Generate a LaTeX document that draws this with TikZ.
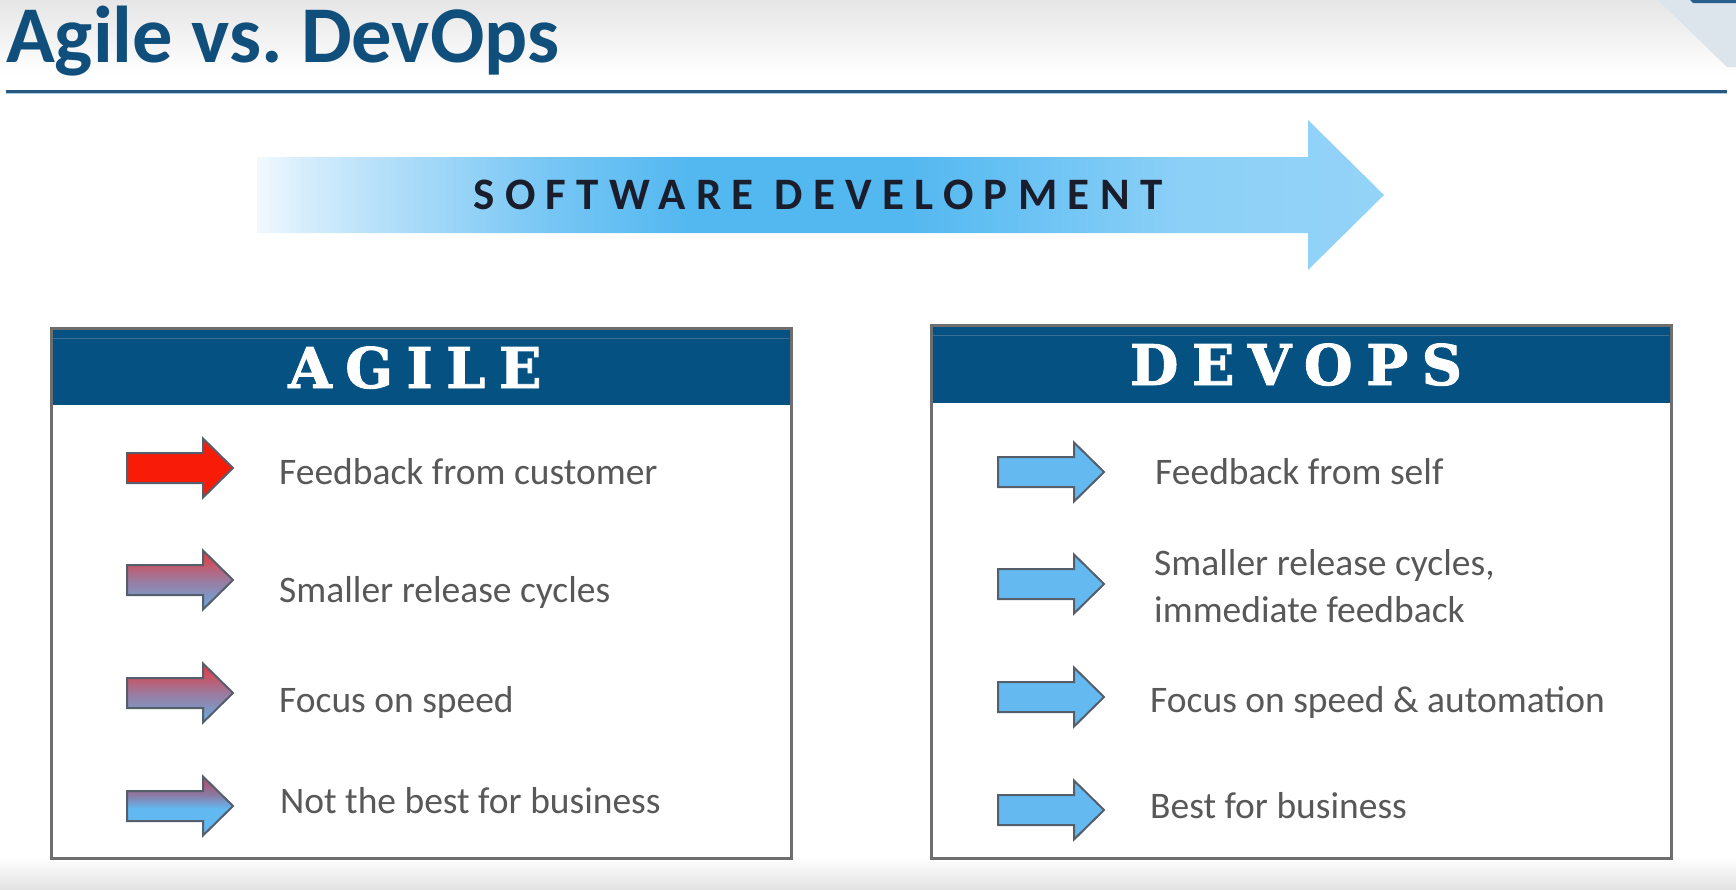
\documentclass[tikz,border=0pt]{standalone}
\usepackage{fontspec}
\setmainfont{Carlito}
\newfontfamily\headfont{DejaVu Serif}[LetterSpace=24,FakeBold=1.6]
\newfontfamily\bandfont{Carlito}[LetterSpace=23]

% palette
\definecolor{titleblue}{RGB}{16,78,124}
\definecolor{headblue}{RGB}{4,81,130}
\definecolor{headline}{RGB}{60,110,150}
\definecolor{ruleblue}{RGB}{38,88,128}
\definecolor{rulelight}{RGB}{170,205,230}
\definecolor{boxgray}{RGB}{110,110,110}
\definecolor{arrowedge}{RGB}{85,95,108}
\definecolor{itemgray}{RGB}{88,88,88}
\definecolor{sdtext}{RGB}{26,30,44}
\definecolor{skyfill}{RGB}{100,186,240}
\definecolor{agilered}{RGB}{248,28,8}
\definecolor{cornerpale}{RGB}{220,228,236}
\definecolor{cornerdark}{RGB}{40,95,140}
% red-to-blue icon blends
\definecolor{mixT}{RGB}{232,56,60}
\definecolor{mixM}{RGB}{156,122,158}
\definecolor{mixB}{RGB}{104,172,226}
\definecolor{blT}{RGB}{184,72,104}
\definecolor{blM}{RGB}{140,120,160}
\definecolor{blB}{RGB}{98,184,240}
% band colours, left to right
\definecolor{sd0}{RGB}{242,249,254}
\definecolor{sd1}{RGB}{214,238,252}
\definecolor{sd2}{RGB}{168,218,248}
\definecolor{sd3}{RGB}{118,198,244}
\definecolor{sd4}{RGB}{84,184,240}
\definecolor{sd5}{RGB}{110,196,244}
\definecolor{sd6}{RGB}{140,208,247}
\definecolor{sd7}{RGB}{148,211,248}

\pgfdeclareverticalshading{agilemix}{100bp}{color(0bp)=(mixB); color(25bp)=(mixB); color(50bp)=(mixM); color(75bp)=(mixT); color(100bp)=(mixT)}
\pgfdeclareverticalshading{agileblue}{100bp}{color(0bp)=(blB); color(25bp)=(blB); color(48bp)=(blB); color(60bp)=(blM); color(75bp)=(blT); color(100bp)=(blT)}
\pgfdeclarehorizontalshading{sdband}{100bp}{color(0bp)=(sd0); color(25bp)=(sd0); color(27bp)=(sd1); color(32bp)=(sd2); color(38bp)=(sd3); color(44bp)=(sd4); color(54bp)=(sd4); color(60bp)=(sd5); color(66bp)=(sd6); color(75bp)=(sd7); color(100bp)=(sd7)}

\tikzset{
  blockarrow/.pic={\path[pic actions] (0,-15) -- (76,-15) -- (76,-29.5) -- (106,0) -- (76,29.5) -- (76,15) -- (0,15) -- cycle;},
  iconedge/.style={draw=arrowedge, line width=2, line join=miter},
  panel/.style={draw=boxgray, line width=2.5},
  headtext/.style={text=white, anchor=base, font=\headfont\bfseries\fontsize{56}{60}\selectfont},
  itemtext/.style={text=itemgray, anchor=base west, font=\fontsize{37.5}{47}\selectfont, inner sep=0pt},
}

\begin{document}
\begin{tikzpicture}[x=1pt,y=-1pt]
\useasboundingbox (0,0) rectangle (1736,889);
\fill[white] (0,0) rectangle (1736,889);
% soft page edges
\shade[top color=black!10, bottom color=white] (0,0) rectangle (1736,75);
\shade[top color=white, bottom color=black!11] (0,857) rectangle (1736,889);
% corner ribbon
\fill[cornerpale] (1658,0) -- (1736,0) -- (1736,67) -- (1727,67) -- cycle;
\fill[cornerdark] (1690,0) -- (1736,0) -- (1736,3) -- (1693,3) -- cycle;

% heading and rule
\node[anchor=base west, inner sep=0pt, text=titleblue, font=\bfseries\fontsize{80.5}{90}\selectfont] (title) at (6,62) {Agile vs.\ DevOps};
\draw[ruleblue, line width=3] (6,91) -- (1727,91);
\draw[rulelight, line width=1.5] (6,93.5) -- (1727,93.5);

% software development band
\path[shade, shading=sdband] (257,157) -- (1308,157) -- (1308,120) -- (1384,195) -- (1308,270) -- (1308,233) -- (257,233) -- cycle;
\node[text=sdtext, font=\bandfont\bfseries\fontsize{45}{50}\selectfont] (sdlabel) at (818,195) {SOFTWARE DEVELOPMENT};

% Agile panel
\fill[headblue] (50,327) rectangle (790,405);
\draw[headline, line width=1] (51,338) -- (789,338);
\node[panel, anchor=north west, minimum width=740, minimum height=530, inner sep=0pt] (agilebox) at (50,327) {};
\node[headtext] (agilehead) at (415,388) {AGILE};

\pic[iconedge, fill=agilered] (ag1) at (127,468) {blockarrow};
\pic[iconedge, shade, shading=agilemix] (ag2) at (127,580) {blockarrow};
\pic[iconedge, shade, shading=agilemix] (ag3) at (127,693) {blockarrow};
\pic[iconedge, shade, shading=agileblue] (ag4) at (127,806) {blockarrow};

\node[itemtext] (agt1) at (279,484) {Feedback from customer};
\node[itemtext] (agt2) at (279,602) {Smaller release cycles};
\node[itemtext] (agt3) at (279,712) {Focus on speed};
\node[itemtext] (agt4) at (280,813) {Not the best for business};

% DevOps panel
\fill[headblue] (930,324) rectangle (1670,403);
\draw[headline, line width=1] (931,335) -- (1669,335);
\node[panel, anchor=north west, minimum width=740, minimum height=533, inner sep=0pt] (devbox) at (930,324) {};
\node[headtext] (devhead) at (1296,385) {DEVOPS};

\pic[iconedge, fill=skyfill] (dv1) at (998,472) {blockarrow};
\pic[iconedge, fill=skyfill] (dv2) at (998,584) {blockarrow};
\pic[iconedge, fill=skyfill] (dv3) at (998,697) {blockarrow};
\pic[iconedge, fill=skyfill] (dv4) at (998,810) {blockarrow};

\node[itemtext] (dvt1) at (1155,484) {Feedback from self};
\node[itemtext, align=left] (dvt2) at (1154,622) {Smaller release cycles,\\immediate feedback};
\node[itemtext] (dvt3) at (1150,712) {Focus on speed \& automation};
\node[itemtext] (dvt4) at (1150,818) {Best for business};
\end{tikzpicture}
\end{document}
